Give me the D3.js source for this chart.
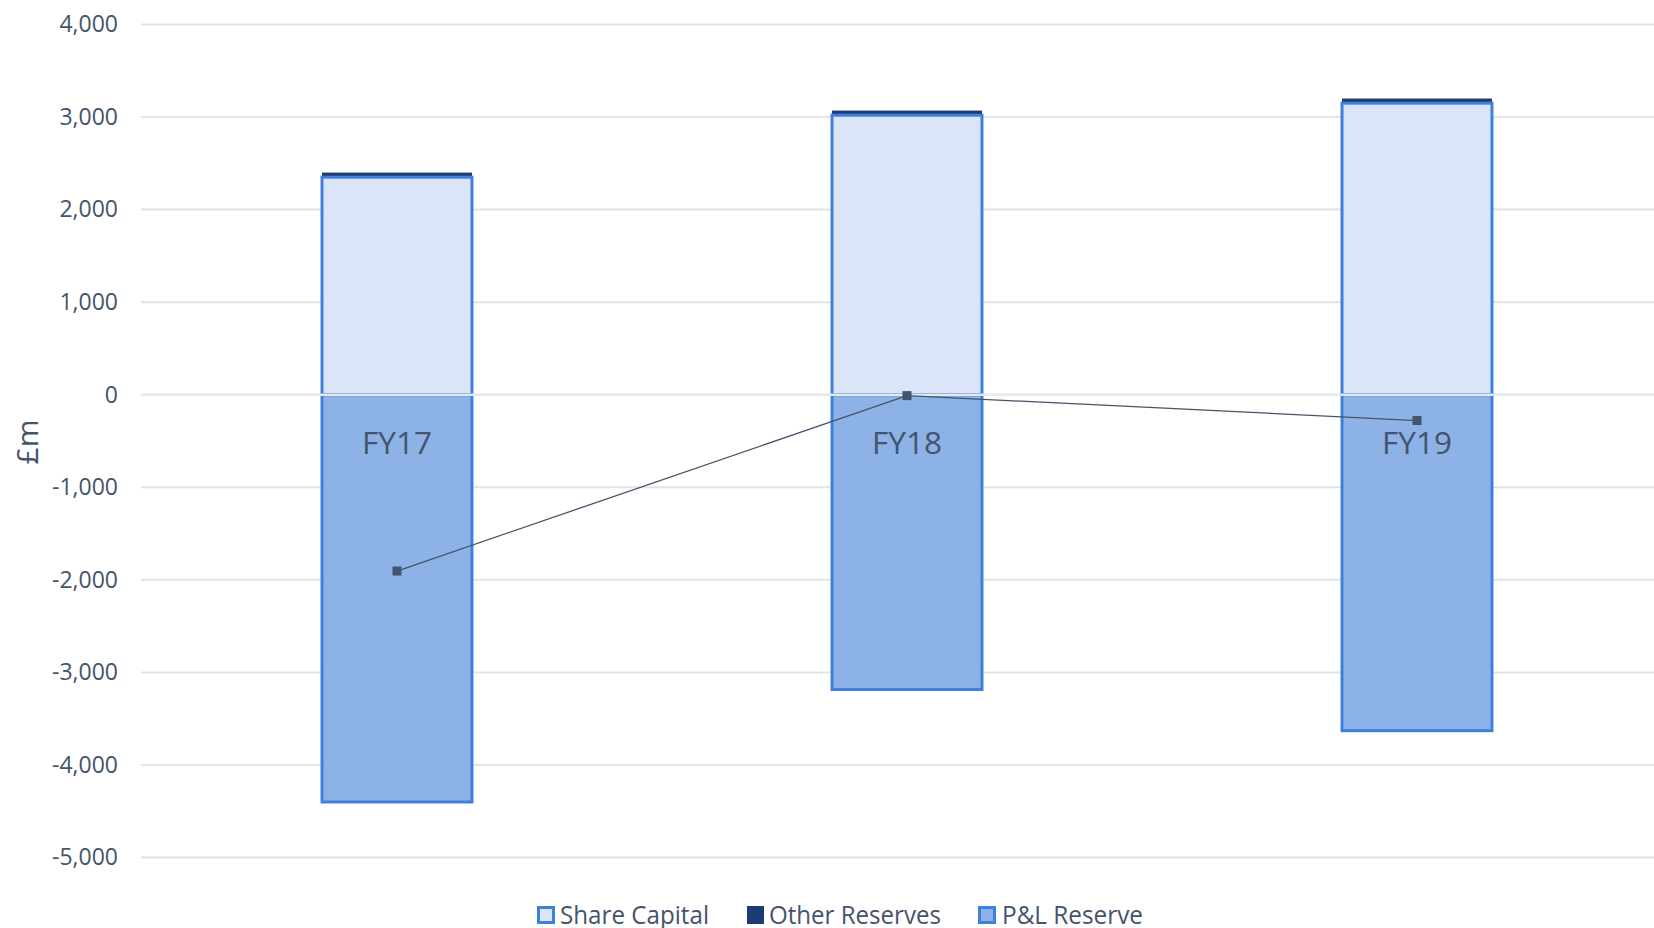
<!DOCTYPE html>
<html><head><meta charset="utf-8">
<script src="https://cdn.jsdelivr.net/npm/d3@7"></script>
<style>html,body{margin:0;padding:0;background:#fff;}svg{display:block;}</style>
</head><body>
<script>
const categories = ["FY17", "FY18", "FY19"];
const shareCapital = [2350, 3020, 3150];
const otherReserves = [50, 50, 50];
const plReserve = [-4400, -3185, -3630];
const totalLine = [-1905, -10, -279];
const yTicks = [4000, 3000, 2000, 1000, 0, -1000, -2000, -3000, -4000, -5000];
const legendLabels = ["Share Capital", "Other Reserves", "P&L Reserve"];

const W = 1654, H = 928;
const FONT = "'Open Sans', sans-serif";
const TXT = "#44546A";
const svg = d3.select("body").append("svg").attr("width", W).attr("height", H);

const y = d3.scaleLinear().domain([-5000, 4000]).range([857.5, 24.5]);
const x = d3.scaleBand().domain(categories).range([142, 1672]).paddingInner(0.706).paddingOuter(0.353);

// gridlines
svg.append("g").selectAll("line").data(yTicks).join("line")
  .attr("x1", 141).attr("x2", W)
  .attr("y1", d => y(d)).attr("y2", d => y(d))
  .attr("stroke", "#E1E4E9").attr("stroke-width", 2);

// axis labels
const fmt = d3.format(",");
const yAxis = d3.axisLeft(y).tickValues(yTicks).tickFormat(d => fmt(d).replace("\u2212", "-")).tickSize(0).tickPadding(0);
const ga = svg.append("g").attr("transform", "translate(118,0)").call(yAxis);
ga.select(".domain").remove();
ga.selectAll("text").attr("fill", TXT).attr("font-family", FONT).attr("font-size", 23);

// bars
const bw = x.bandwidth();
const gb = svg.append("g");
categories.forEach((c, i) => {
  gb.append("rect")
    .attr("x", x(c)).attr("width", bw)
    .attr("y", y(shareCapital[i] + otherReserves[i]))
    .attr("height", y(shareCapital[i]) - y(shareCapital[i] + otherReserves[i]))
    .attr("fill", "#1B3D73");
  gb.append("rect")
    .attr("x", x(c)).attr("width", bw)
    .attr("y", y(shareCapital[i])).attr("height", y(0) - y(shareCapital[i]))
    .attr("fill", "#DAE5F7").attr("stroke", "#3F80DD").attr("stroke-width", 3);
  gb.append("rect")
    .attr("x", x(c)).attr("width", bw)
    .attr("y", y(0)).attr("height", y(plReserve[i]) - y(0))
    .attr("fill", "#8CB2E8").attr("stroke", "#3F80DD").attr("stroke-width", 3);
});

// zero line over bars
svg.append("line").attr("x1", 141).attr("x2", W).attr("y1", y(0)).attr("y2", y(0))
  .attr("stroke", "#E6E9EE").attr("stroke-width", 2.5);

// category labels
svg.append("g").selectAll("text").data(categories).join("text")
  .attr("x", d => x(d) + bw / 2).attr("y", y(0) + 59)
  .attr("text-anchor", "middle").attr("fill", TXT)
  .attr("font-family", FONT).attr("font-size", 31)
  .attr("textLength", 70).attr("lengthAdjust", "spacingAndGlyphs")
  .text(d => d);

// line
const lineGen = d3.line().x((d, i) => x(categories[i]) + bw / 2).y(d => y(d));
svg.append("path").datum(totalLine).attr("d", lineGen)
  .attr("fill", "none").attr("stroke", "#44546A").attr("stroke-width", 1.3);
svg.append("g").selectAll("rect").data(totalLine).join("rect")
  .attr("x", (d, i) => x(categories[i]) + bw / 2 - 4.5)
  .attr("y", d => y(d) - 4.5)
  .attr("width", 9).attr("height", 9).attr("fill", "#44546A");

// y title
svg.append("text").attr("transform", "translate(38,442) rotate(-90)")
  .attr("text-anchor", "middle").attr("fill", TXT)
  .attr("font-family", FONT).attr("font-size", 30).text("£m");

// legend
const legendX = [537, 747, 978];
const legendTextX = [560, 769, 1002];
const legendW = [149, 172, 141];
const legendFill = ["#DAE5F7", "#1B3D73", "#8CB2E8"];
const legendStroke = ["#3F80DD", "#1B3D73", "#3F80DD"];
const lg = svg.append("g");
legendLabels.forEach((t, i) => {
  lg.append("rect").attr("x", legendX[i] + 1.5).attr("y", 907.5).attr("width", i === 1 ? 14 : 15).attr("height", 15)
    .attr("fill", legendFill[i]).attr("stroke", legendStroke[i]).attr("stroke-width", 3);
  lg.append("text").attr("x", legendTextX[i]).attr("y", 924)
    .attr("fill", TXT).attr("font-family", FONT).attr("font-size", 25)
    .attr("textLength", legendW[i]).attr("lengthAdjust", "spacingAndGlyphs").text(t);
});
</script>
</body></html>
